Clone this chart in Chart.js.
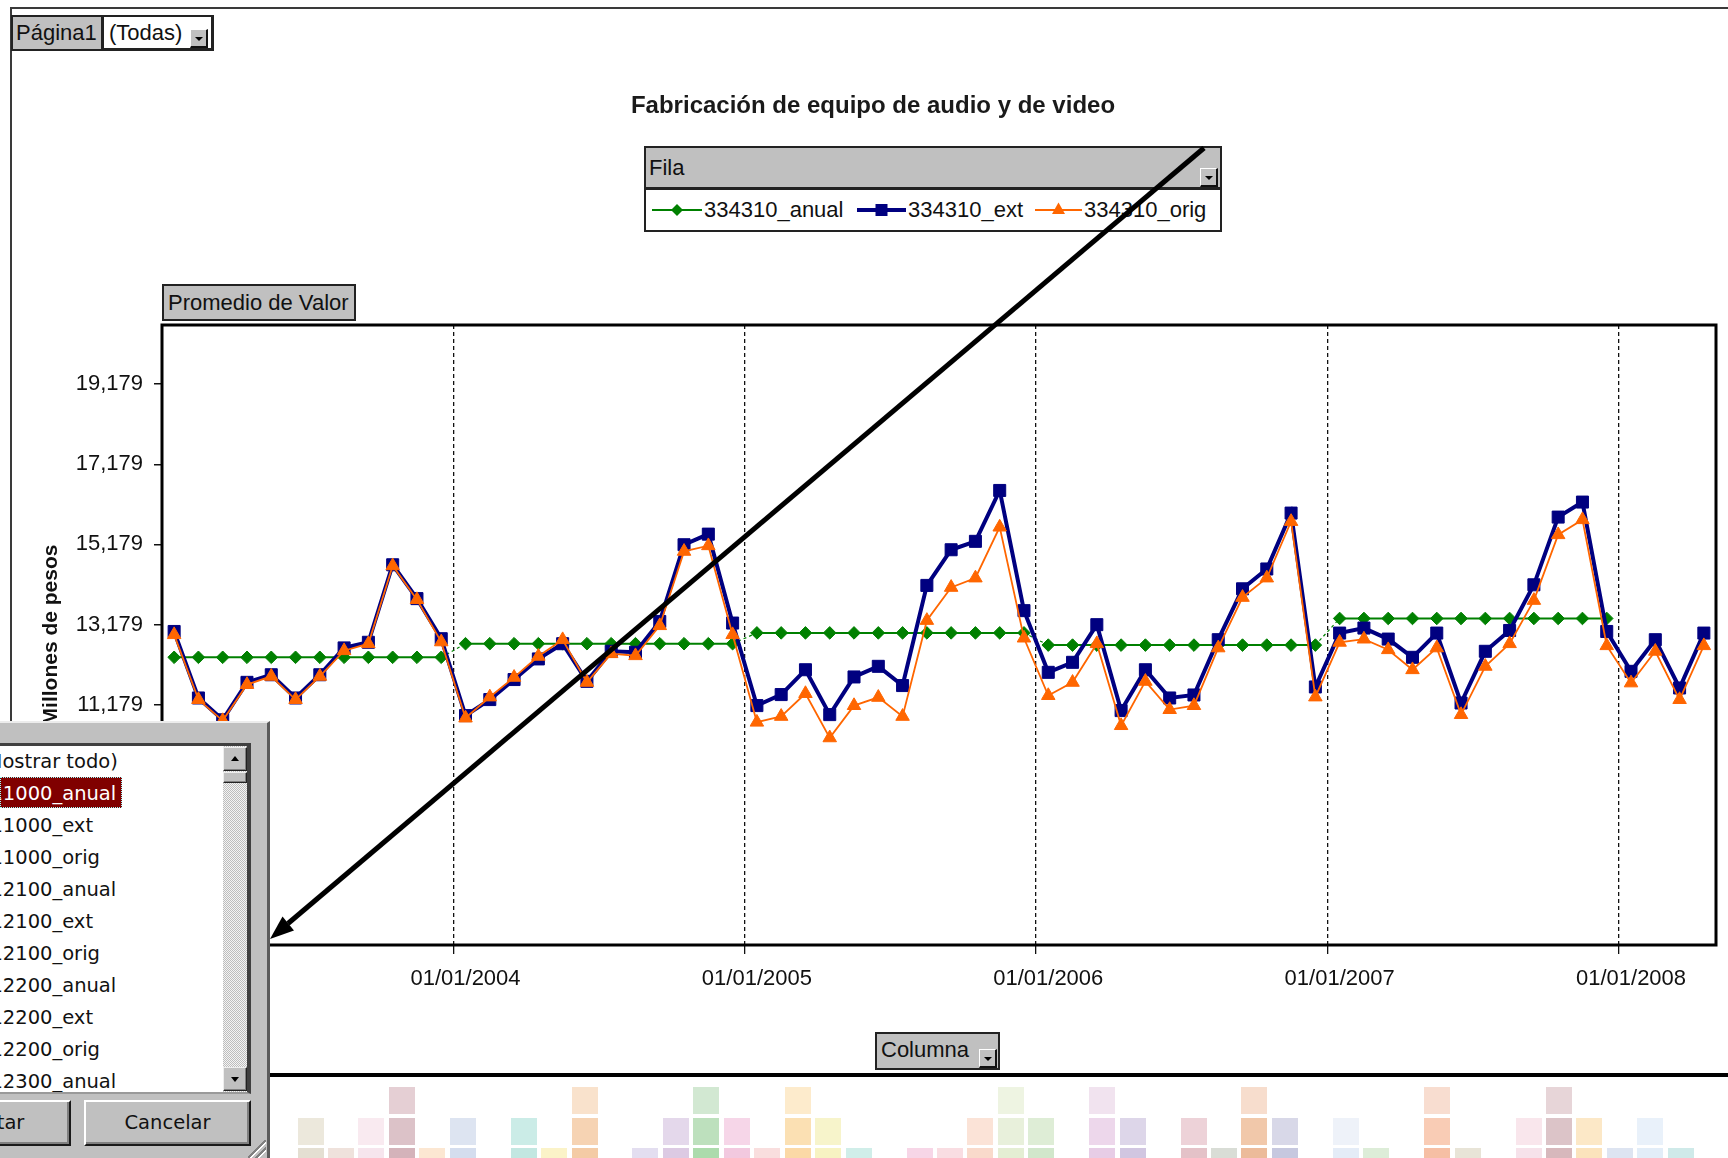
<!DOCTYPE html>
<html lang="es">
<head>
<meta charset="utf-8">
<title>Fabricación de equipo de audio y de video</title>
<script src="https://cdn.jsdelivr.net/npm/chart.js@4.4.1/dist/chart.umd.min.js"></script>
<style>
html, body { margin: 0; padding: 0; background: #fff; }
body { position: relative; width: 1728px; height: 1158px; overflow: hidden;
       font-family: "Liberation Sans", Arial, sans-serif; color: #111; }
#chart { position: absolute; left: 0; top: 0; }
.abs { position: absolute; box-sizing: border-box; white-space: nowrap; }
.gray { background: #c0c0c0; }
.field { border: 2px solid #222; font-size: 22px; z-index: 2; }
.drop { position: absolute; box-sizing: border-box; width: 18px; height: 19px; background: #c0c0c0;
        border-top: 1px solid #fff; border-left: 1px solid #fff;
        border-right: 2px solid #111; border-bottom: 2px solid #111; }
.drop::after { content: ""; position: absolute; left: 4px; top: 7px;
        border-left: 4px solid transparent; border-right: 4px solid transparent; border-top: 4px solid #000; }
.leg { font-size: 22px; line-height: 28px; top: 196px; z-index: 3; }
.item { font: 19.5px "DejaVu Sans", sans-serif; line-height: 32px; left: -21px; color: #111; }
.sbtn { background: #c0c0c0; border: 1px solid; border-color: #eee #222 #222 #eee;
        box-shadow: inset -1px -1px #808080; }
.wbtn { background: #c0c0c0; border: 2px solid; border-color: #fff #1a1a1a #1a1a1a #fff;
        box-shadow: inset -2px -2px #808080; font: 19.5px "DejaVu Sans", sans-serif;
        text-align: center; line-height: 42px; color: #111; }
</style>
</head>
<body>
<canvas id="chart" width="1728" height="1158"></canvas>

<div class="abs" style="left:10px;top:7px;width:1718px;height:2px;background:#3a3a3a"></div>
<div class="abs" style="left:10px;top:7px;width:2px;height:716px;background:#3a3a3a"></div>

<div class="abs gray field" style="left:11px;top:15px;width:92px;height:36px;line-height:32px;padding-left:3px">Página1</div>
<div class="abs field" style="left:102px;top:15px;width:112px;height:36px;line-height:32px;padding-left:5px;background:#fff;border-right-width:3px;border-bottom-width:3px">(Todas)<span class="drop" style="left:86px;top:12px"></span></div>

<div class="abs" style="left:373px;top:90px;width:1000px;text-align:center;font-weight:bold;font-size:24px;line-height:30px;color:#1a1a1a">Fabricación de equipo de audio y de video</div>

<div class="abs" style="left:644px;top:146px;width:578px;height:86px;border:2px solid #222;background:#fff;z-index:2">
  <div class="abs gray" style="left:0;top:0;width:574px;height:42px;border-bottom:3px solid #222;font-size:22px;line-height:40px;padding-left:3px">Fila<span class="drop" style="left:554px;top:20px"></span></div>
</div>
<div class="abs leg" style="left:704px">334310_anual</div>
<div class="abs leg" style="left:908px">334310_ext</div>
<div class="abs leg" style="left:1084px">334310_orig</div>

<div class="abs gray field" style="left:162px;top:284px;width:194px;height:37px;line-height:33px;padding-left:4px">Promedio de Valor</div>
<div class="abs gray field" style="left:875px;top:1032px;width:125px;height:38px;line-height:32px;padding-left:4px">Columna<span class="drop" style="left:102px;top:15px"></span></div>

<div class="abs" style="left:268px;top:1073px;width:1460px;height:4px;background:#000"></div>
<div id="cells"></div>

<svg class="abs" width="1728" height="1158" style="left:0;top:0;z-index:5;pointer-events:none">
  <line x1="652" y1="210" x2="702" y2="210" stroke="#008000" stroke-width="2"/>
  <polygon points="677,204 683,210 677,216 671,210" fill="#008000"/>
  <line x1="857" y1="210" x2="906" y2="210" stroke="#000080" stroke-width="4"/>
  <rect x="875.5" y="204" width="12" height="12" fill="#000080"/>
  <line x1="1035" y1="210" x2="1082" y2="210" stroke="#ff6600" stroke-width="1.8"/>
  <polygon points="1058.5,202.5 1065,214 1052,214" fill="#ff6600"/>
  <line x1="1204" y1="148" x2="288" y2="923.5" stroke="#000" stroke-width="5"/>
  <polygon points="270,939 294,930.4 282.5,916.6" fill="#000"/>
</svg>

<div id="dlg" class="abs" style="left:0;top:721px;width:270px;height:437px;background:#c0c0c0;border-top:2px solid #ececec;border-right:3px solid #5a5a5a;z-index:10">
  <div id="list" class="abs" style="left:-4px;top:20px;width:255px;height:351px;background:#fff;border:3px solid #404040;border-right-width:4px;border-bottom:2px solid #9a9a9a;overflow:hidden">
    <div class="abs" style="left:1px;top:31px;width:122px;height:31px;background:#800000;outline:1px dotted #9ff;outline-offset:-1px"></div>
    <div id="items"></div>
    <div class="abs" style="left:224px;top:0;width:24px;height:346px;background:repeating-conic-gradient(#bdbdbd 0 25%, #f4f4f4 0 50%) 0 0/2px 2px">
      <div class="abs sbtn" style="left:0;top:1px;width:24px;height:24px"><div class="abs" style="left:7px;top:8px;border-left:4px solid transparent;border-right:4px solid transparent;border-bottom:5px solid #000"></div></div>
      <div class="abs sbtn" style="left:0;top:26px;width:24px;height:11px"></div>
      <div class="abs sbtn" style="left:0;top:321px;width:24px;height:24px"><div class="abs" style="left:7px;top:9px;border-left:4px solid transparent;border-right:4px solid transparent;border-top:5px solid #000"></div></div>
    </div>
  </div>
  <div class="abs wbtn" style="left:-98px;top:377px;width:169px;height:46px">Aceptar</div>
  <div class="abs wbtn" style="left:84px;top:377px;width:167px;height:46px">Cancelar</div>
  <div class="abs" style="left:248px;top:417px;width:18px;height:18px;background:linear-gradient(135deg, transparent 0 46%, #808080 46% 53%, #fff 53% 59%, transparent 59% 68%, #808080 68% 75%, #fff 75% 81%, transparent 81%)"></div>
</div>

<script>
// categorías: primer día de cada mes, ene-2003 a abr-2008
const years = [2003, 2004, 2005, 2006, 2007, 2008];
const monthsShown = [12, 12, 12, 12, 12, 4];

const yTicks = [5179, 7179, 9179, 11179, 13179, 15179, 17179, 19179];

const anual = [
  12360, 12360, 12360, 12360, 12360, 12360, 12360, 12360, 12360, 12360, 12360, 12360,
  12700, 12700, 12700, 12700, 12700, 12700, 12700, 12700, 12700, 12700, 12700, 12700,
  12970, 12970, 12970, 12970, 12970, 12970, 12970, 12970, 12970, 12970, 12970, 12970,
  12665, 12665, 12665, 12665, 12665, 12665, 12665, 12665, 12665, 12665, 12665, 12665,
  13330, 13330, 13330, 13330, 13330, 13330, 13330, 13330, 13330, 13330, 13330, 13330,
  null, null, null, null
];
const ext = [
  13005, 11345, 10800, 11735, 11925, 11345, 11925, 12595, 12735, 14670, 13825, 12825,
  10905, 11305, 11805, 12320, 12700, 11760, 12510, 12485, 13255, 15170, 15435, 13215,
  11155, 11430, 12050, 10930, 11870, 12135, 11655, 14155, 15045, 15255, 16525, 13525,
  11985, 12235, 13175, 11030, 12050, 11345, 11420, 12800, 14070, 14565, 15960, 11620,
  12965, 13090, 12815, 12360, 12965, 11220, 12510, 13030, 14170, 15860, 16235, 13005,
  12010, 12800, 11595, 12965
];
const orig = [
  12925, 11305, 10780, 11680, 11885, 11305, 11885, 12525, 12700, 14645, 13800, 12745,
  10845, 11370, 11860, 12385, 12800, 11735, 12450, 12400, 13150, 15005, 15145, 12925,
  10740, 10885, 11455, 10350, 11155, 11360, 10885, 13280, 14105, 14340, 15610, 12840,
  11405, 11735, 12700, 10655, 11760, 11055, 11155, 12595, 13855, 14340, 15750, 11370,
  12735, 12815, 12550, 12050, 12595, 10930, 12135, 12700, 13780, 15420, 15795, 12650,
  11720, 12510, 11305, 12650
];

const filterItems = ['(Mostrar todo)', '311000_anual', '311000_ext', '311000_orig',
  '312100_anual', '312100_ext', '312100_orig', '312200_anual', '312200_ext',
  '312200_orig', '312300_anual'];

const categories = [];
years.forEach((y, k) => {
  for (let m = 1; m <= monthsShown[k]; m++) {
    categories.push('01/' + String(m).padStart(2, '0') + '/' + y);
  }
});

// lista del filtro desplegado
const itemsBox = document.getElementById('items');
filterItems.forEach((t, i) => {
  const d = document.createElement('div');
  d.className = 'abs item';
  d.style.top = (32 * i) + 'px';
  if (i === 1) d.style.color = '#fff';
  d.textContent = t;
  itemsBox.appendChild(d);
});

// celdas de colores de la hoja, debajo del gráfico (decoración)
const cellRows = [
  [[3,'#e5cfd4'],[9,'#f9e2cc'],[13,'#d2e8d2'],[16,'#fdebcc'],[23,'#eef4e2'],[26,'#f1e3ef'],[31,'#f7ddcd'],[37,'#f8ddd0'],[41,'#e7d5d8']],
  [[0,'#ece8dc'],[2,'#f9eaf0'],[3,'#dcc2c8'],[5,'#dde4f1'],[7,'#cbece7'],[9,'#f6d3b3'],[12,'#e4d8eb'],[13,'#bde0bd'],[14,'#f6d6e8'],[16,'#fbe0b3'],[17,'#f7f4cb'],[22,'#fbe3d7'],[23,'#e8f0db'],[24,'#deedd6'],[26,'#edd7eb'],[27,'#ddd6e9'],[29,'#edd2d8'],[31,'#f1c8aa'],[32,'#d8d8e8'],[34,'#eef2f9'],[37,'#f9ccb5'],[40,'#f9e6ec'],[41,'#dcc4c8'],[42,'#fce8c7'],[44,'#e9f1fa']],
  [[0,'#e4dfd2'],[1,'#efe2dc'],[2,'#f6e5ed'],[3,'#d4b3ba'],[4,'#fce7d2'],[5,'#d4ddee'],[7,'#c2e7e1'],[8,'#fbf3c8'],[9,'#f4cba5'],[11,'#e3def0'],[12,'#dccae3'],[13,'#acdbac'],[14,'#f2c9df'],[15,'#f9dede'],[16,'#fbd9a6'],[17,'#f7f3c2'],[18,'#d0eee9'],[20,'#f7d6e7'],[21,'#f9dde2'],[22,'#f9dacb'],[23,'#e4eed3'],[24,'#d1e7cb'],[26,'#e7cde6'],[27,'#d1c6e1'],[29,'#e4c2c8'],[30,'#d9ddd6'],[31,'#ecbb9a'],[32,'#c6c8df'],[34,'#e4ecf7'],[35,'#ddedd8'],[37,'#f6bfa4'],[38,'#e8e4d7'],[40,'#f6e2ea'],[41,'#d7b8bc'],[42,'#fbe3bc'],[43,'#dde4f1'],[44,'#e2edf8'],[45,'#cfeae9']]
];
const cellsBox = document.getElementById('cells');
const rowTop = [1087, 1118, 1148];
cellRows.forEach((row, r) => {
  row.forEach(([c, color]) => {
    const d = document.createElement('div');
    d.className = 'abs';
    d.style.cssText += 'left:' + (297.5 + 30.45 * c) + 'px;top:' + rowTop[r] + 'px;width:26px;height:27px;background:' + color;
    cellsBox.appendChild(d);
  });
});

const FONT = "'Liberation Sans', Arial, sans-serif";
const isYearLine = i => i > 0 && i % 12 === 0;

const plotFrame = {
  id: 'plotFrame',
  beforeDatasetsDraw(chart) {
    const { ctx, chartArea: a } = chart;
    ctx.save();
    ctx.strokeStyle = '#000';
    ctx.lineWidth = 3;
    ctx.strokeRect(a.left, a.top, a.right - a.left, a.bottom - a.top);
    ctx.restore();
  }
};

new Chart(document.getElementById('chart'), {
  type: 'line',
  data: {
    labels: categories,
    datasets: [
      {
        label: '334310_anual',
        data: anual,
        borderColor: '#008000',
        backgroundColor: '#008000',
        borderWidth: 2,
        pointStyle: 'rectRot',
        pointRadius: 6.3,
        pointBorderWidth: 1,
        order: 3,
        segment: {
          borderDash: c => (c.p1DataIndex % 12 === 0 ? [3, 3] : undefined),
          borderWidth: c => (c.p1DataIndex % 12 === 0 ? 1.2 : undefined)
        }
      },
      {
        label: '334310_ext',
        data: ext,
        borderColor: '#000080',
        backgroundColor: '#000080',
        borderWidth: 4,
        pointStyle: 'rect',
        pointRadius: 8.5,
        pointBorderWidth: 1,
        order: 2
      },
      {
        label: '334310_orig',
        data: orig,
        borderColor: '#ff6600',
        backgroundColor: '#ff6600',
        borderWidth: 1.8,
        pointStyle: 'triangle',
        pointRadius: 7.8,
        pointBorderWidth: 1,
        order: 1
      }
    ]
  },
  options: {
    responsive: false,
    devicePixelRatio: 1,
    animation: false,
    layout: { padding: { left: 0, top: 325, right: 12, bottom: 153 } },
    plugins: { legend: { display: false }, tooltip: { enabled: false } },
    elements: { line: { tension: 0 } },
    scales: {
      x: {
        type: 'category',
        offset: true,
        afterFit: s => { s.height = 60; },
        grid: {
          offset: true,
          drawOnChartArea: true,
          color: c => (isYearLine(c.index) ? '#111' : 'rgba(0,0,0,0)'),
          tickColor: c => (isYearLine(c.index) ? '#111' : 'rgba(0,0,0,0)'),
          lineWidth: 1.3,
          tickLength: 9
        },
        border: { display: false, dash: [4, 3] },
        ticks: {
          autoSkip: false,
          maxRotation: 0,
          minRotation: 0,
          padding: 12,
          color: '#111',
          font: { family: FONT, size: 22 },
          callback: (v, i) => (i % 12 === 0 ? categories[i] : '')
        }
      },
      y: {
        min: 5179,
        max: 20655,
        afterFit: s => { s.width = 162; },
        afterBuildTicks: s => { s.ticks = yTicks.map(v => ({ value: v })); },
        grid: { drawOnChartArea: false, color: '#111', tickLength: 8, lineWidth: 1.5 },
        border: { display: false },
        ticks: {
          padding: 11,
          color: '#111',
          font: { family: FONT, size: 22 },
          callback: v => v.toLocaleString('en-US')
        },
        title: {
          display: true,
          text: 'Millones de pesos',
          color: '#111',
          font: { family: FONT, size: 21, weight: 'bold' },
          padding: { top: 39, bottom: 0 }
        }
      }
    }
  },
  plugins: [plotFrame]
});
</script>
</body>
</html>
